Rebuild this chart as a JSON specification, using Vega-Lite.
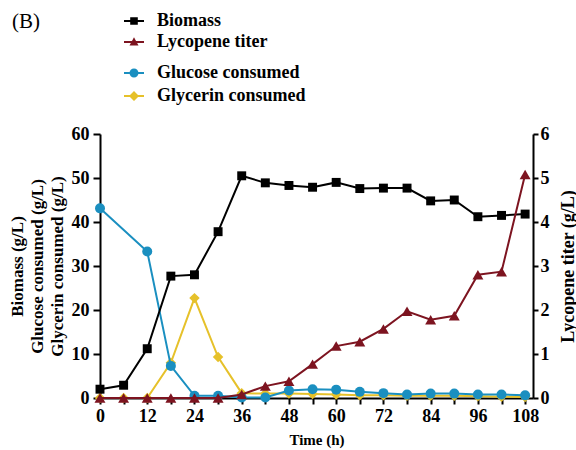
{
  "$schema": "https://vega.github.io/schema/vega-lite/v6.json",
  "autosize": {"type": "none"},
  "width": 433,
  "height": 264,
  "padding": {"left": 100, "top": 134, "right": 43, "bottom": 52},
  "background": "white",
  "title": {"text": "(B)", "anchor": "start", "frame": "group", "dx": -88, "dy": 21, "offset": 0, "font": "Liberation Serif", "fontSize": 21, "fontWeight": "normal", "color": "black"},
  "config": {
    "view": {"stroke": null},
    "axis": {
      "labelFont": "Liberation Serif", "labelFontWeight": "bold", "labelFontSize": 18, "labelColor": "black",
      "titleFont": "Liberation Serif", "titleFontWeight": "bold", "titleColor": "black",
      "domainColor": "black", "domainWidth": 2, "tickColor": "black", "tickWidth": 2, "grid": false
    },
    "legend": {"labelFont": "Liberation Serif", "labelFontWeight": "bold", "labelFontSize": 18, "labelColor": "black"}
  },
  "data": {"values": [
    {"series": "Biomass", "time": 0, "value": 2.0},
    {"series": "Biomass", "time": 6, "value": 2.9},
    {"series": "Biomass", "time": 12, "value": 11.2},
    {"series": "Biomass", "time": 18, "value": 27.7},
    {"series": "Biomass", "time": 24, "value": 28.0},
    {"series": "Biomass", "time": 30, "value": 37.8},
    {"series": "Biomass", "time": 36, "value": 50.5},
    {"series": "Biomass", "time": 42, "value": 48.9},
    {"series": "Biomass", "time": 48, "value": 48.3},
    {"series": "Biomass", "time": 54, "value": 47.9},
    {"series": "Biomass", "time": 60, "value": 49.0},
    {"series": "Biomass", "time": 66, "value": 47.6},
    {"series": "Biomass", "time": 72, "value": 47.7},
    {"series": "Biomass", "time": 78, "value": 47.7},
    {"series": "Biomass", "time": 84, "value": 44.8},
    {"series": "Biomass", "time": 90, "value": 45.0},
    {"series": "Biomass", "time": 96, "value": 41.2},
    {"series": "Biomass", "time": 102, "value": 41.5},
    {"series": "Biomass", "time": 108, "value": 41.8},
    {"series": "Lycopene titer", "time": 0, "value": 0},
    {"series": "Lycopene titer", "time": 6, "value": 0},
    {"series": "Lycopene titer", "time": 12, "value": 0},
    {"series": "Lycopene titer", "time": 18, "value": 0},
    {"series": "Lycopene titer", "time": 24, "value": 0},
    {"series": "Lycopene titer", "time": 30, "value": 0},
    {"series": "Lycopene titer", "time": 36, "value": 0.08},
    {"series": "Lycopene titer", "time": 42, "value": 0.27},
    {"series": "Lycopene titer", "time": 48, "value": 0.38},
    {"series": "Lycopene titer", "time": 54, "value": 0.77},
    {"series": "Lycopene titer", "time": 60, "value": 1.18},
    {"series": "Lycopene titer", "time": 66, "value": 1.28},
    {"series": "Lycopene titer", "time": 72, "value": 1.57},
    {"series": "Lycopene titer", "time": 78, "value": 1.97},
    {"series": "Lycopene titer", "time": 84, "value": 1.78},
    {"series": "Lycopene titer", "time": 90, "value": 1.87},
    {"series": "Lycopene titer", "time": 96, "value": 2.8},
    {"series": "Lycopene titer", "time": 102, "value": 2.87},
    {"series": "Lycopene titer", "time": 108, "value": 5.08},
    {"series": "Glucose consumed", "time": 0, "value": 43.1},
    {"series": "Glucose consumed", "time": 12, "value": 33.3},
    {"series": "Glucose consumed", "time": 18, "value": 7.3},
    {"series": "Glucose consumed", "time": 24, "value": 0.5},
    {"series": "Glucose consumed", "time": 30, "value": 0.5},
    {"series": "Glucose consumed", "time": 36, "value": 0.1},
    {"series": "Glucose consumed", "time": 42, "value": 0.1},
    {"series": "Glucose consumed", "time": 48, "value": 1.7},
    {"series": "Glucose consumed", "time": 54, "value": 2.0},
    {"series": "Glucose consumed", "time": 60, "value": 1.9},
    {"series": "Glucose consumed", "time": 66, "value": 1.4},
    {"series": "Glucose consumed", "time": 72, "value": 1.1},
    {"series": "Glucose consumed", "time": 78, "value": 0.8},
    {"series": "Glucose consumed", "time": 84, "value": 1.0},
    {"series": "Glucose consumed", "time": 90, "value": 1.0},
    {"series": "Glucose consumed", "time": 96, "value": 0.8},
    {"series": "Glucose consumed", "time": 102, "value": 0.8},
    {"series": "Glucose consumed", "time": 108, "value": 0.6},
    {"series": "Glycerin consumed", "time": 0, "value": 0},
    {"series": "Glycerin consumed", "time": 6, "value": 0},
    {"series": "Glycerin consumed", "time": 12, "value": 0},
    {"series": "Glycerin consumed", "time": 18, "value": 8.0},
    {"series": "Glycerin consumed", "time": 24, "value": 22.7},
    {"series": "Glycerin consumed", "time": 30, "value": 9.3},
    {"series": "Glycerin consumed", "time": 36, "value": 1.1},
    {"series": "Glycerin consumed", "time": 42, "value": 1.0},
    {"series": "Glycerin consumed", "time": 48, "value": 1.0},
    {"series": "Glycerin consumed", "time": 54, "value": 0.9},
    {"series": "Glycerin consumed", "time": 60, "value": 0.8},
    {"series": "Glycerin consumed", "time": 66, "value": 0.6},
    {"series": "Glycerin consumed", "time": 72, "value": 0.6},
    {"series": "Glycerin consumed", "time": 78, "value": 0.5},
    {"series": "Glycerin consumed", "time": 84, "value": 0.5},
    {"series": "Glycerin consumed", "time": 90, "value": 0.5},
    {"series": "Glycerin consumed", "time": 96, "value": 0.4},
    {"series": "Glycerin consumed", "time": 102, "value": 0.3},
    {"series": "Glycerin consumed", "time": 108, "value": 0.2}
  ]},
  "encoding": {
    "x": {"field": "time", "type": "quantitative",
      "scale": {"domain": [0, 110], "nice": false},
      "axis": {"values": [0,6,12,18,24,30,36,42,48,54,60,66,72,78,84,90,96,102,108],
        "labelExpr": "datum.value % 12 == 0 ? datum.label : ''",
        "title": "Time (h)", "titleFontSize": 15, "titlePadding": 7, "labelPadding": 3, "tickSize": 6, "labelFlush": false, "labelOverlap": false}}
  },
  "layer": [
    {
      "transform": [{"filter": "datum.series == 'Glucose consumed' || datum.series == 'Glycerin consumed'"}],
      "encoding": {
        "y": {"field": "value", "type": "quantitative", "scale": {"domain": [0, 60], "nice": false}, "axis": null},
        "color": {"field": "series", "type": "nominal",
          "scale": {"domain": ["Glucose consumed", "Glycerin consumed"], "range": ["#1a8fc0", "#e6c12a"]},
          "legend": {"orient": "none", "legendX": 24, "legendY": -71, "title": null, "rowPadding": 4, "labelOffset": 13,
            "encode": {"symbols": {"update": {
              "shape": {"signal": "datum.value == 'Glucose consumed' ? 'M-1,-0.1H1V0.1H-1Z M-0.45,0A0.45,0.45 0 1,1 0.45,0A0.45,0.45 0 1,1 -0.45,0Z' : 'M-1,-0.1H1V0.1H-1Z M0,-0.5L0.5,0L0,0.5L-0.5,0Z'"},
              "fill": {"signal": "datum.value == 'Glucose consumed' ? '#1a8fc0' : '#e6c12a'"},
              "stroke": {"value": "transparent"},
              "strokeWidth": {"value": 0},
              "size": {"value": 400},
              "opacity": {"value": 1}
            }}}}}
      },
      "layer": [
        {
          "transform": [{"filter": "datum.series == 'Glycerin consumed'"}],
          "layer": [
            {"mark": {"type": "line", "strokeWidth": 2}},
            {"mark": {"type": "point", "filled": true, "shape": "diamond", "size": 110, "opacity": 1}}
          ]
        },
        {
          "transform": [{"filter": "datum.series == 'Glucose consumed'"}],
          "layer": [
            {"mark": {"type": "line", "strokeWidth": 2}},
            {"mark": {"type": "point", "filled": true, "shape": "circle", "size": 100, "opacity": 1}}
          ]
        }
      ]
    },
    {
      "transform": [{"filter": "datum.series == 'Biomass' || datum.series == 'Lycopene titer'"}],
      "encoding": {
        "color": {"field": "series", "type": "nominal",
          "scale": {"domain": ["Biomass", "Lycopene titer"], "range": ["#000000", "#7d1420"]},
          "legend": {"orient": "none", "legendX": 24, "legendY": -123, "title": null, "rowPadding": 2, "labelOffset": 13,
            "encode": {"symbols": {"update": {
              "shape": {"signal": "datum.value == 'Biomass' ? 'M-1,-0.1H1V0.1H-1Z M-0.38,-0.38H0.38V0.38H-0.38Z' : 'M-1,-0.1H1V0.1H-1Z M0,-0.48L0.45,0.36L-0.45,0.36Z'"},
              "fill": {"signal": "datum.value == 'Biomass' ? '#000000' : '#7d1420'"},
              "stroke": {"value": "transparent"},
              "strokeWidth": {"value": 0},
              "size": {"value": 400},
              "opacity": {"value": 1}
            }}}}}
      },
      "layer": [
        {
          "transform": [{"filter": "datum.series == 'Biomass'"}],
          "encoding": {
            "y": {"field": "value", "type": "quantitative", "scale": {"domain": [0, 60], "nice": false},
              "axis": {"orient": "left", "values": [0,10,20,30,40,50,60],
                "title": ["Biomass (g/L)", "Glucose consumed (g/L)", "Glycerin consumed (g/L)"],
                "titleFontSize": 17, "titleLineHeight": 20, "titlePadding": 5, "labelPadding": 4, "tickSize": 7}}
          },
          "layer": [
            {"mark": {"type": "line", "strokeWidth": 2}},
            {"mark": {"type": "point", "filled": true, "shape": "square", "size": 80, "opacity": 1}}
          ]
        },
        {
          "transform": [{"filter": "datum.series == 'Lycopene titer'"}],
          "encoding": {
            "y": {"field": "value", "type": "quantitative", "scale": {"domain": [0, 6], "nice": false},
              "axis": {"orient": "right", "values": [0,1,2,3,4,5,6],
                "title": "Lycopene titer (g/L)", "titleAngle": 270, "titleBaseline": "top", "titleFontSize": 18, "titlePadding": 10, "labelPadding": 2, "tickSize": 5}}
          },
          "layer": [
            {"mark": {"type": "line", "strokeWidth": 2}},
            {"mark": {"type": "point", "filled": true, "shape": "triangle-up", "size": 120, "opacity": 1}}
          ]
        }
      ],
      "resolve": {"scale": {"y": "independent"}}
    }
  ],
  "resolve": {"scale": {"y": "independent", "color": "independent", "shape": "independent"}}
}
